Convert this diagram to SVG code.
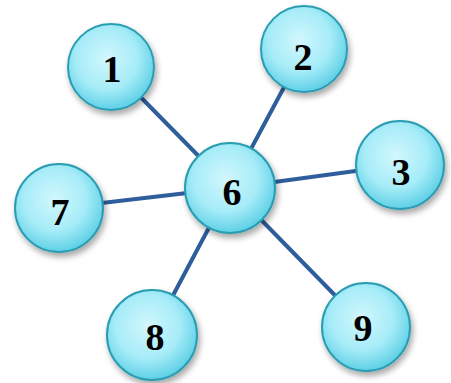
<svg xmlns="http://www.w3.org/2000/svg" width="451" height="383" viewBox="0 0 451 383">
  <defs>
    <radialGradient id="bubble" cx="0.45" cy="0.4" r="0.6">
      <stop offset="0" stop-color="#d2f7fd"/>
      <stop offset="0.6" stop-color="#a6ecf8"/>
      <stop offset="1" stop-color="#5fd0e6"/>
    </radialGradient>
    <filter id="shadow" x="-30%" y="-30%" width="170%" height="170%">
      <feGaussianBlur in="SourceAlpha" stdDeviation="3"/>
      <feOffset dx="2" dy="4" result="b"/>
      <feComponentTransfer><feFuncA type="linear" slope="0.35"/></feComponentTransfer>
      <feMerge><feMergeNode/><feMergeNode in="SourceGraphic"/></feMerge>
    </filter>
  </defs>
  <style>
    .edge { stroke: #2f5e9c; stroke-width: 4; stroke-linecap: round; fill: none; }
    .node circle { fill: url(#bubble); stroke: #2a9db2; stroke-width: 2; filter: url(#shadow); }
    .node text { font-family: "Liberation Serif", "Times New Roman", serif; font-weight: bold; font-size: 38px; fill: #000; text-anchor: middle; }
  </style>
  <rect width="451" height="383" fill="#ffffff"/>
  <g id="connectors">
    <line class="edge" x1="230" y1="188" x2="111" y2="67"/>
    <line class="edge" x1="230" y1="188" x2="304" y2="50"/>
    <line class="edge" x1="230" y1="188" x2="400" y2="165"/>
    <line class="edge" x1="230" y1="188" x2="59" y2="208"/>
    <line class="edge" x1="230" y1="188" x2="152" y2="335"/>
    <line class="edge" x1="230" y1="188" x2="366" y2="327"/>
  </g>
  <g id="node-1" class="node"><circle cx="111" cy="67" r="43"/><text x="112" y="82">1</text></g>
  <g id="node-2" class="node"><circle cx="304" cy="49" r="43"/><text x="303" y="70">2</text></g>
  <g id="node-3" class="node"><circle cx="400" cy="165" r="44"/><text x="401" y="185">3</text></g>
  <g id="node-7" class="node"><circle cx="59" cy="208" r="44"/><text x="60" y="225">7</text></g>
  <g id="node-8" class="node"><circle cx="152" cy="335" r="45"/><text x="155" y="350">8</text></g>
  <g id="node-9" class="node"><circle cx="366" cy="327" r="44"/><text x="363" y="341">9</text></g>
  <g id="node-6" class="node"><circle cx="230" cy="188" r="45"/><text x="232" y="205">6</text></g>
</svg>
